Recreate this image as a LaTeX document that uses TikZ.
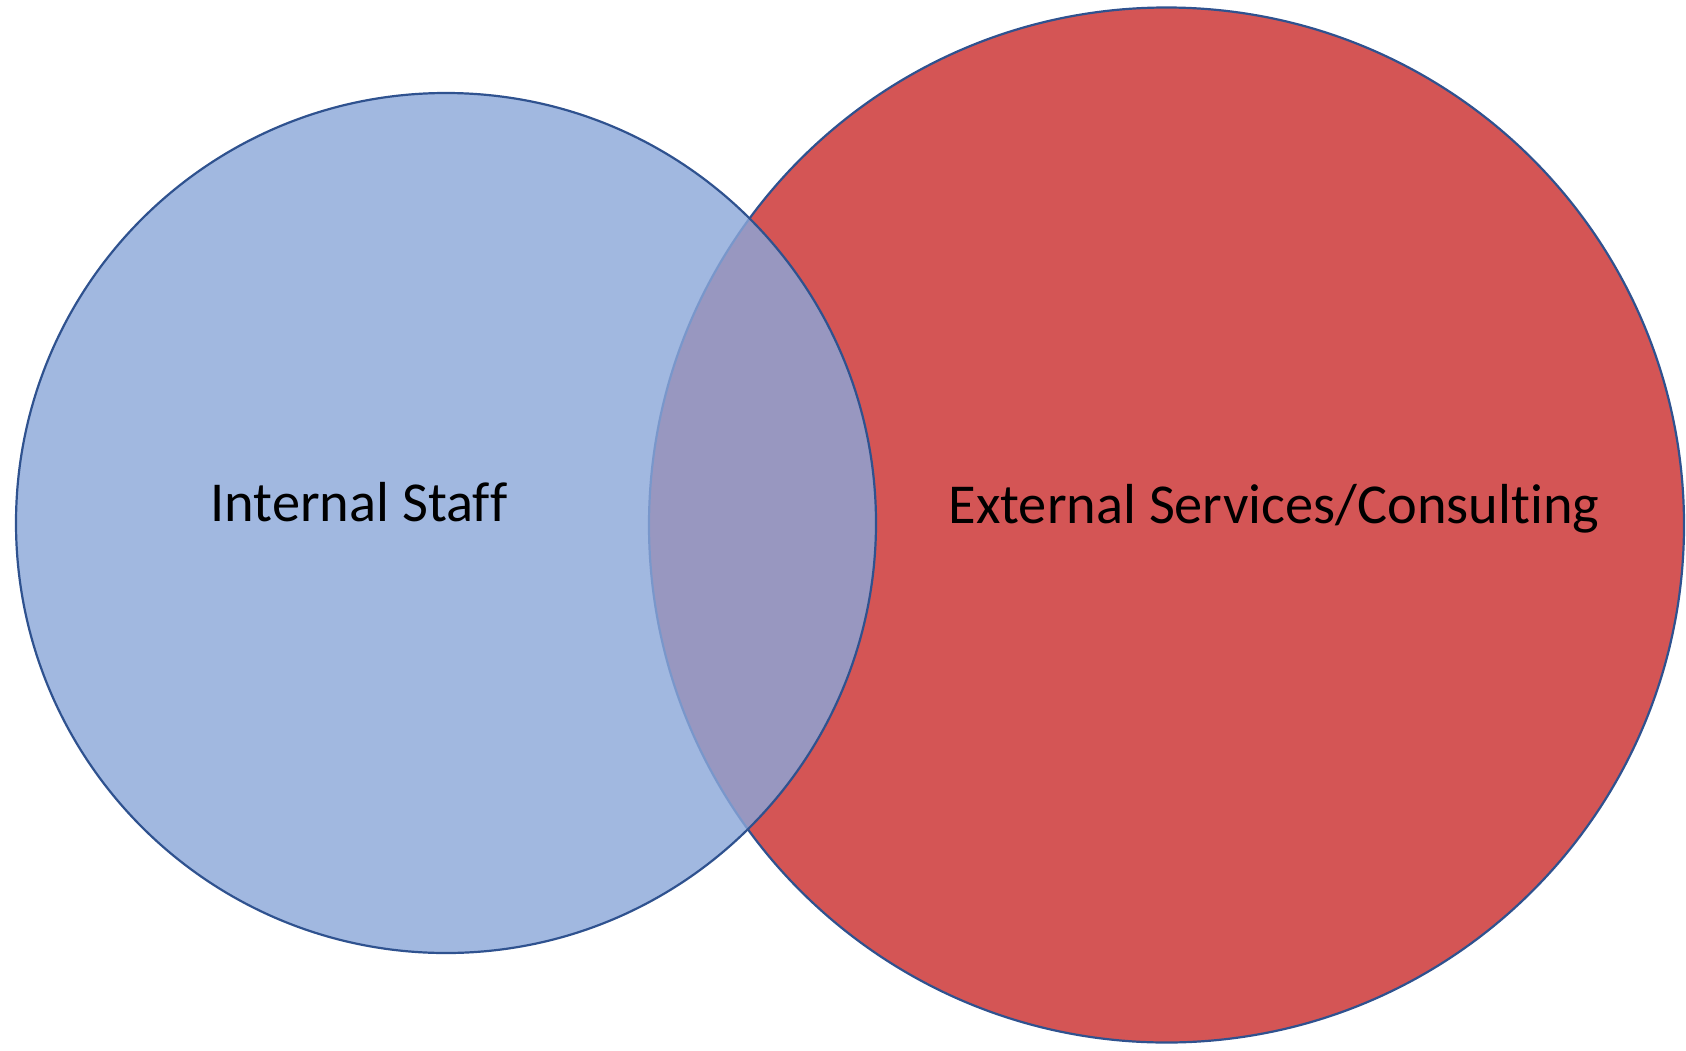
\documentclass[tikz,border=0pt]{standalone}
\usepackage{fontspec}
\setmainfont{Carlito}
\usepackage{tikz}

\definecolor{staffblue}{RGB}{139,167,217}
\definecolor{consultred}{RGB}{212,85,85}
\definecolor{rimblue}{RGB}{47,82,143}

% keep the letter pairs apart (no ff / ti ligature)
\newcommand{\nolig}{\kern0pt}

\tikzset{
  venn/.style={circle, inner sep=0pt, draw=rimblue, line width=1.1pt},
  vennlabel/.style={anchor=base, inner sep=0.75pt, font=\fontsize{28.2}{33}\selectfont}
}

\begin{document}
\begin{tikzpicture}[x=0.5pt,y=0.5pt,yscale=-1]
\useasboundingbox (0,0) rectangle (1686,1050);

%Shape: Circle [external]
\node [venn, fill=consultred, minimum size=517.5pt] (external) at (1166.5,525) {};
%Shape: Circle [internal]
\node [venn, fill=staffblue, fill opacity=0.81, minimum size=430pt] (internal) at (446,523) {};

% Text Node
\node [vennlabel] (internalText) at (359,521) {Internal Staf\nolig f};
% Text Node
\node [vennlabel] (externalText) at (1274,523) {External Services/Consult\nolig ing};

\end{tikzpicture}
\end{document}
